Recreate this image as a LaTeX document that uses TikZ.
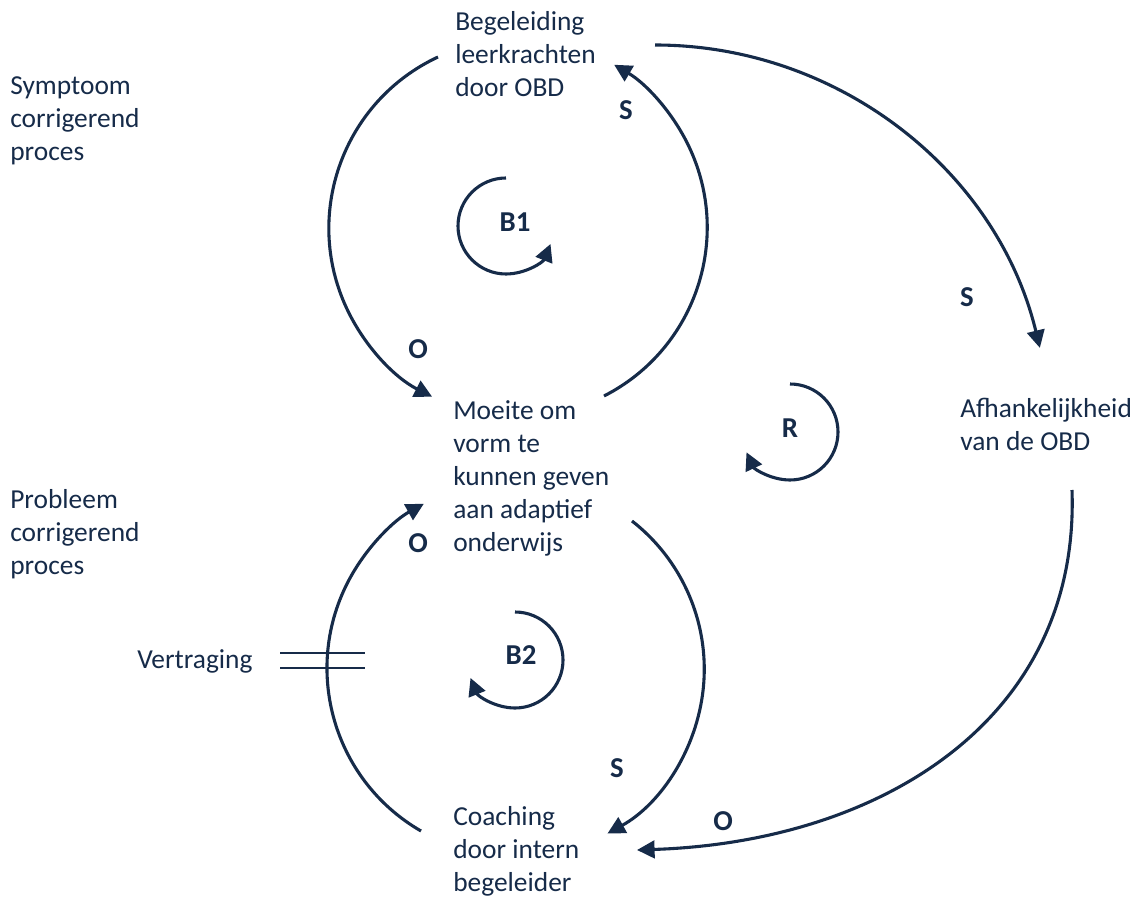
\documentclass[tikz,border=0pt]{standalone}
\usepackage{fontspec}
\setmainfont{Carlito}
\usepackage{xcolor}
\usepackage{tikz}
\usetikzlibrary{arrows.meta}
\definecolor{loopnavy}{RGB}{22, 43, 73}

\begin{document}
\begin{tikzpicture}[x=0.025cm, y=0.025cm, >={Triangle[length=12.5pt, width=12.5pt]},
        flow/.style={->, line width=2.2pt, draw=loopnavy},
        txt/.style={font=\fontsize{19.5}{23.5}\selectfont, text=loopnavy, align=left, anchor=north west, inner sep=0pt},
        lbl/.style={font=\fontsize{20.5}{24}\selectfont\bfseries, text=loopnavy, inner sep=0pt}]
        \useasboundingbox (0, 0) rectangle (1138, -898);

        % Variables
        \node[txt] (begel) at (455, -11) {Begeleiding\\leerkrachten\\door OBD};
        \node[txt] (moeite) at (453, -400) {Moeite om\\vorm te\\kunnen geven\\aan adaptief\\onderwijs};
        \node[txt] (coach) at (453, -806) {Coaching\\door intern\\begeleider};
        \node[txt] (afhank) at (960, -398) {Afhankelijkheid\\van de OBD};

        % Side notes
        \node[txt] (sympt) at (10, -76) {Symptoom\\corrigerend\\proces};
        \node[txt] (probl) at (10, -489) {Probleem\\corrigerend\\proces};
        \node[txt] (vertr) at (137, -649) {Vertraging};

        % Upper loop (B1)
        \coordinate (b1top) at (438, -57);
        \coordinate (b1bot) at (604, -396);
        \draw[flow] (b1top) arc[start angle=115, end angle=243, radius=189];
        \draw[flow] (b1bot) arc[start angle=-63, end angle=59.5, radius=189];

        % Lower loop (B2)
        \coordinate (b2bot) at (421, -831);
        \coordinate (b2top) at (632, -521);
        \draw[flow] (b2bot) arc[start angle=240, end angle=119, radius=188];
        \draw[flow] (b2top) arc[start angle=52, end angle=-61, radius=188];

        % Outer loop (R)
        \coordinate (rtop) at (655, -45);
        \coordinate (rbot) at (1072, -490);
        \coordinate (rend) at (637, -850);
        \draw[flow] (rtop) arc[start angle=90, end angle=13.6, radius=396];
        \draw[flow] (rbot) .. controls (1080, -720) and (880, -842) .. (rend);

        % Delay
        \draw[line width=2pt, loopnavy] (280, -653) -- (365, -653);
        \draw[line width=2pt, loopnavy] (280, -668) -- (365, -668);

        % Loop markers
        \draw[flow] (506, -178) arc[start angle=90, end angle=338, radius=48];
        \draw[flow] (790, -384) arc[start angle=90, end angle=-155, radius=48];
        \draw[flow] (515, -612) arc[start angle=90, end angle=-158, radius=48];
        \node[lbl] (lb1) at (515, -222) {B1};
        \node[lbl] (lr) at (790, -428) {R};
        \node[lbl] (lb2) at (521, -655) {B2};

        % Polarities
        \node[lbl] (p1) at (626, -110) {S};
        \node[lbl] (p2) at (418, -349) {O};
        \node[lbl] (p3) at (967, -297) {S};
        \node[lbl] (p4) at (418, -543) {O};
        \node[lbl] (p5) at (617, -768) {S};
        \node[lbl] (p6) at (723, -821) {O};
    \end{tikzpicture}
\end{document}
